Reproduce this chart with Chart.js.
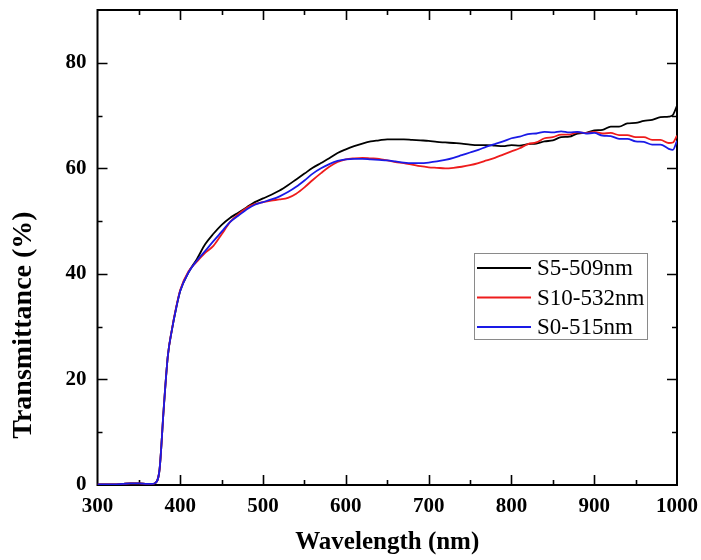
<!DOCTYPE html>
<html>
<head>
<meta charset="utf-8">
<script src="https://cdn.jsdelivr.net/npm/chart.js@4.4.1/dist/chart.umd.min.js"></script>
<style>
  body { margin: 0; background: #fff; }
</style>
</head>
<body>
<canvas id="transChart" width="701" height="560"></canvas>
<script>
var FONT = "'Liberation Serif', 'Times New Roman', serif";

// wavelength (nm) shared by all three spectra
var wavelength = [
  300, 310, 320, 330, 340, 350, 360, 365, 370, 375, 380, 385, 390, 395, 400, 410, 420,
  430, 440, 450, 460, 470, 480, 490, 500, 510, 520,
  530, 540, 550, 560, 570, 580, 590, 600, 610, 620,
  630, 640, 650, 660, 670, 680, 690, 700, 710, 720,
  730, 740, 750, 760, 770, 780, 790, 800, 810, 820,
  830, 840, 850, 860, 870, 880, 890, 900, 910, 920,
  930, 940, 950, 960, 970, 980, 990, 995, 1000
];

// transmittance (%)
var s5 = [
  0.1, 0.1, 0.1, 0.2, 0.3, 0.3, 0.2, 0.2, 0.4, 3.0, 14.5, 24.5, 29.5, 33.5, 36.8, 40.3, 42.8,
  45.6, 47.6, 49.3, 50.6, 51.6, 52.6, 53.6, 54.3, 55.0, 55.8,
  56.8, 57.9, 59.0, 60.1, 61.0, 61.9, 62.9, 63.6, 64.2, 64.7,
  65.1, 65.3, 65.5, 65.5, 65.5, 65.4, 65.3, 65.2, 65.0, 64.9,
  64.8, 64.7, 64.5, 64.4, 64.4, 64.3, 64.2, 64.4, 64.3, 64.6,
  64.7, 65.1, 65.3, 65.9, 66.0, 66.6, 66.7, 67.2, 67.3, 67.9,
  67.9, 68.5, 68.6, 69.0, 69.2, 69.7, 69.8, 70.1, 71.9
];
var s10 = [
  0.1, 0.1, 0.1, 0.2, 0.3, 0.3, 0.2, 0.2, 0.4, 3.0, 14.5, 24.5, 29.6, 33.7, 37.0, 40.5, 42.3,
  44.0, 45.3, 47.5, 49.8, 51.3, 52.5, 53.2, 53.6, 53.9, 54.1,
  54.4, 55.2, 56.4, 57.8, 59.1, 60.3, 61.2, 61.7, 61.9, 62.0,
  61.9, 61.8, 61.5, 61.2, 61.0, 60.7, 60.4, 60.2, 60.1, 60.0,
  60.1, 60.3, 60.6, 61.0, 61.5, 62.0, 62.6, 63.2, 63.8, 64.6,
  64.9, 65.7, 65.9, 66.4, 66.4, 66.8, 66.7, 66.9, 66.6, 66.7,
  66.3, 66.3, 65.9, 65.9, 65.4, 65.4, 64.8, 64.9, 66.2
];
var s0 = [
  0.1, 0.1, 0.1, 0.2, 0.3, 0.3, 0.2, 0.2, 0.4, 3.0, 14.5, 24.5, 29.5, 33.5, 36.8, 40.3, 42.5,
  44.3, 46.2, 48.0, 49.8, 51.0, 52.2, 53.1, 53.6, 54.1, 54.7,
  55.5, 56.5, 57.7, 59.0, 60.0, 60.8, 61.4, 61.7, 61.8, 61.8,
  61.7, 61.6, 61.5, 61.3, 61.1, 61.0, 61.0, 61.1, 61.3, 61.6,
  62.0, 62.5, 63.0, 63.5, 64.1, 64.6, 65.1, 65.7, 66.0, 66.5,
  66.6, 66.9, 66.8, 67.0, 66.8, 66.9, 66.6, 66.7, 66.2, 66.1,
  65.6, 65.6, 65.1, 65.0, 64.5, 64.5, 63.7, 63.5, 65.2
];

var seriesNames = ['S5-509nm', 'S10-532nm', 'S0-515nm'];
var seriesColors = ['#000000', '#ee1c1c', '#1a1ae6'];

function toPoints(vals) {
  return vals.map(function (v, i) { return { x: wavelength[i], y: v }; });
}

// frame + inward ticks on all four sides (drawn under the curves)
var framePlugin = {
  id: 'frame',
  beforeDraw: function (chart) {
    var ctx = chart.ctx;
    ctx.save();
    ctx.fillStyle = '#fff';
    ctx.fillRect(0, 0, chart.width, chart.height);
    ctx.restore();
  },
  beforeDatasetsDraw: function (chart) {
    var ctx = chart.ctx, a = chart.chartArea;
    var xs = chart.scales.x, ys = chart.scales.y;
    ctx.save();
    ctx.strokeStyle = '#000';
    ctx.lineWidth = 1.6;
    ctx.beginPath();
    xs.ticks.forEach(function (t) {
      if (t.value <= xs.min || t.value >= xs.max) return;
      var px = Math.round(xs.getPixelForValue(t.value)) + 0.5;
      var len = t.value % 100 === 0 ? 10 : 5;
      ctx.moveTo(px, a.bottom); ctx.lineTo(px, a.bottom - len);
      ctx.moveTo(px, a.top); ctx.lineTo(px, a.top + len);
    });
    ys.ticks.forEach(function (t) {
      if (t.value <= ys.min || t.value >= ys.max) return;
      var py = Math.round(ys.getPixelForValue(t.value)) + 0.5;
      var len = t.value % 20 === 0 ? 10 : 5;
      ctx.moveTo(a.left, py); ctx.lineTo(a.left + len, py);
      ctx.moveTo(a.right, py); ctx.lineTo(a.right - len, py);
    });
    ctx.stroke();
    ctx.lineWidth = 2;
    ctx.strokeRect(a.left, a.top, a.right - a.left, a.bottom - a.top);

    // y axis title, sits lower than the axis middle
    ctx.translate(24, 325);
    ctx.rotate(-Math.PI / 2);
    ctx.fillStyle = '#000';
    ctx.font = 'bold 28px ' + FONT;
    ctx.textAlign = 'center';
    ctx.textBaseline = 'middle';
    ctx.fillText('Transmittance (%)', 0, 0);
    ctx.restore();
  },
  afterDraw: function (chart) {
    // boxed legend inside the plot
    var ctx = chart.ctx, a = chart.chartArea;
    var bx = a.right - 203, by = a.top + 243, bw = 173, bh = 86;
    ctx.save();
    ctx.fillStyle = '#fff';
    ctx.fillRect(bx, by, bw, bh);
    ctx.strokeStyle = '#8a8a8a';
    ctx.lineWidth = 1;
    ctx.strokeRect(bx + 0.5, by + 0.5, bw, bh);
    ctx.font = '23px ' + FONT;
    ctx.textBaseline = 'middle';
    seriesNames.forEach(function (name, i) {
      var ry = by + 15 + i * 29.5;
      ctx.strokeStyle = seriesColors[i];
      ctx.lineWidth = 2;
      ctx.beginPath();
      ctx.moveTo(bx + 3, ry); ctx.lineTo(bx + 57, ry);
      ctx.stroke();
      ctx.fillStyle = '#000';
      ctx.fillText(name, bx + 63, ry + 1);
    });
    ctx.restore();
  }
};

var tickFont = { family: FONT, size: 21, weight: 'bold' };

var context = document.getElementById('transChart').getContext('2d');
var transChart = new Chart(context, {
  type: 'line',
  data: {
    datasets: [
      { label: seriesNames[0], data: toPoints(s5), borderColor: seriesColors[0], order: 3 },
      { label: seriesNames[1], data: toPoints(s10), borderColor: seriesColors[1], order: 2 },
      { label: seriesNames[2], data: toPoints(s0), borderColor: seriesColors[2], order: 1 }
    ]
  },
  options: {
    responsive: false,
    animation: false,
    datasets: {
      line: { borderWidth: 1.8, pointRadius: 0, fill: false, cubicInterpolationMode: 'monotone' }
    },
    layout: { padding: { left: 0, right: 24, top: 10, bottom: 0 } },
    plugins: { legend: { display: false }, tooltip: { enabled: false } },
    scales: {
      x: {
        type: 'linear', min: 300, max: 1000,
        grid: { display: false, drawTicks: false, tickLength: 0 },
        border: { display: false },
        ticks: {
          stepSize: 50, padding: 9, color: '#000', font: tickFont,
          maxRotation: 0, autoSkip: false,
          callback: function (v) { return v % 100 === 0 ? v : ''; }
        },
        title: {
          display: true, text: 'Wavelength (nm)', color: '#000',
          font: { family: FONT, size: 25, weight: 'bold' }, padding: { top: 0, bottom: 2 }
        },
        afterFit: function (s) { s.height = 75; s.paddingLeft = 0; s.paddingRight = 0; }
      },
      y: {
        min: 0, max: 90,
        grid: { display: false, drawTicks: false, tickLength: 0 },
        border: { display: false },
        ticks: {
          stepSize: 10, padding: 11, color: '#000', font: tickFont,
          callback: function (v) { return v % 20 === 0 ? v : ''; }
        },
        afterFit: function (s) { s.width = 97.5; s.paddingTop = 0; s.paddingBottom = 0; }
      }
    }
  },
  plugins: [framePlugin]
});
</script>
</body>
</html>
